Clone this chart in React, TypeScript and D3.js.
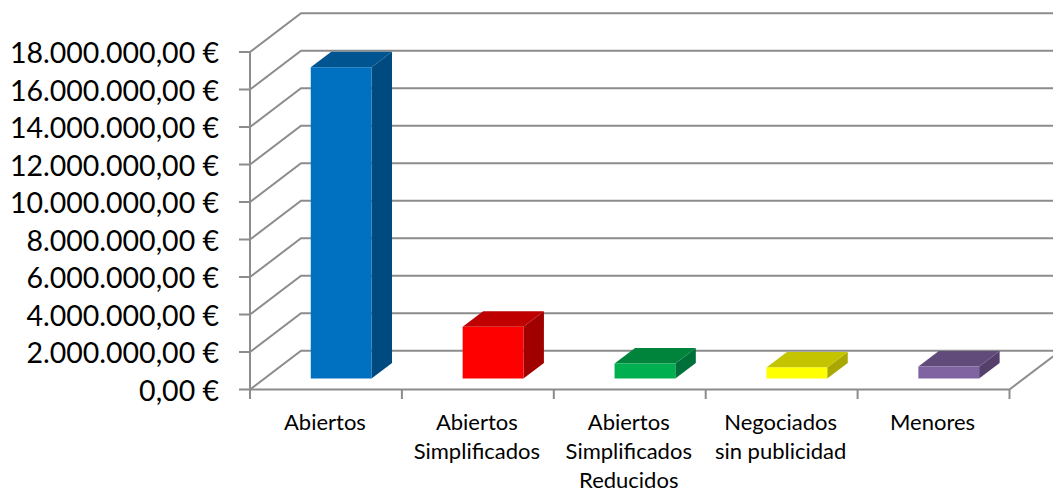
import { useEffect, useRef } from 'react';
import * as d3 from 'd3';

const categories = ['Abiertos', 'Abiertos Simplificados', 'Abiertos Simplificados Reducidos', 'Negociados sin publicidad', 'Menores'];
const categoryLines = [['Abiertos'], ['Abiertos', 'Simplificados'], ['Abiertos', 'Simplificados', 'Reducidos'], ['Negociados', 'sin publicidad'], ['Menores']];
const values = [16600000, 2760000, 800000, 590000, 640000];
const tickValues = [0, 2000000, 4000000, 6000000, 8000000, 10000000, 12000000, 14000000, 16000000, 18000000];
const frontColors = ['#0070c0', '#ff0000', '#00b050', '#ffff00', '#8064a2'];
const topColors = ['#005490', '#bf0000', '#00843c', '#c4c400', '#604b7a'];
const sideColors = ['#004a80', '#a00000', '#00703a', '#a8a800', '#55406c'];

const locale = d3.formatLocale({ decimal: ',', thousands: '.', grouping: [3], currency: ['', ' €'] });
const fmt = locale.format('$,.2f');

const WIDTH = 1053;
const HEIGHT = 493;
const GRID = '#8c8c8c';

export default function App() {
  const svgRef = useRef<SVGSVGElement>(null);

  useEffect(() => {
    if (!svgRef.current) return;
    const svg = d3.select(svgRef.current);
    svg.selectAll('*').remove();

    // front plane of the 3D box, the back wall sits up and to the right of it
    const x = d3.scaleBand().domain(categories).range([250, 1009.5]);
    const y = d3.scaleLinear().domain([0, 18000000]).range([389.5, 52]);
    const wallDx = 51;
    const wallDy = -38.7;
    // bars stand in the middle of the floor depth
    const barDy = -11;
    const depthX = 20.5;
    const depthY = -15.5;

    const grid = svg.append('g').attr('fill', 'none').attr('stroke', GRID).attr('stroke-width', 2);

    // wall lines, left diagonal then across the back
    tickValues.forEach(v => {
      const yy = y(v);
      grid.append('path')
        .attr('d', `M${250},${yy}L${250 + wallDx},${yy + wallDy}L${WIDTH + 10},${yy + wallDy}`);
      grid.append('line')
        .attr('x1', 239).attr('x2', 250)
        .attr('y1', yy).attr('y2', yy);
    });

    // axes
    grid.append('line').attr('x1', 250).attr('x2', 250).attr('y1', y(18000000)).attr('y2', 399);
    grid.append('line').attr('x1', 250).attr('x2', 1009.5).attr('y1', y(0)).attr('y2', y(0));
    grid.append('line')
      .attr('x1', 1009.5).attr('y1', y(0))
      .attr('x2', 1009.5 + wallDx).attr('y2', y(0) + wallDy);
    categories.forEach(c => {
      const xx = (x(c) as number) + x.bandwidth();
      grid.append('line').attr('x1', xx).attr('x2', xx).attr('y1', y(0)).attr('y2', 399);
    });

    // bars
    const barW = x.bandwidth() * 0.4;
    categories.forEach((c, i) => {
      const x0 = (x(c) as number) + x.bandwidth() * 0.4;
      const x1 = x0 + barW;
      const yBottom = y(0) + barDy;
      const yTop = yBottom - (y(0) - y(values[i]));
      const g = svg.append('g');
      g.append('path')
        .attr('fill', sideColors[i])
        .attr('d', `M${x1},${yBottom}L${x1 + depthX},${yBottom + depthY}L${x1 + depthX},${yTop + depthY}L${x1},${yTop}Z`);
      g.append('path')
        .attr('fill', topColors[i])
        .attr('d', `M${x0},${yTop}L${x0 + depthX},${yTop + depthY}L${x1 + depthX},${yTop + depthY}L${x1},${yTop}Z`);
      g.append('rect')
        .attr('x', x0).attr('y', yTop)
        .attr('width', barW).attr('height', yBottom - yTop)
        .attr('fill', frontColors[i]);
    });

    // y labels
    svg.append('g')
      .selectAll('text')
      .data(tickValues)
      .join('text')
      .attr('x', 219)
      .attr('y', d => y(d) + 11.3)
      .attr('text-anchor', 'end')
      .attr('font-family', 'Lato')
      .attr('font-size', 28.5)
      .attr('fill', '#000')
      .text(d => fmt(d));

    // category labels
    categories.forEach((c, i) => {
      const cx = (x(c) as number) + x.bandwidth() / 2 - 1;
      const t = svg.append('text')
        .attr('text-anchor', 'middle')
        .attr('font-family', 'Lato')
        .attr('font-size', 22)
        .attr('fill', '#000');
      categoryLines[i].forEach((line, k) => {
        t.append('tspan').attr('x', cx).attr('y', 429.5 + k * 29).text(line);
      });
    });
  }, []);

  return (
    <svg
      ref={svgRef}
      width={WIDTH}
      height={HEIGHT}
      style={{ position: 'absolute', left: 0, top: 0, background: '#fff' }}
    />
  );
}
